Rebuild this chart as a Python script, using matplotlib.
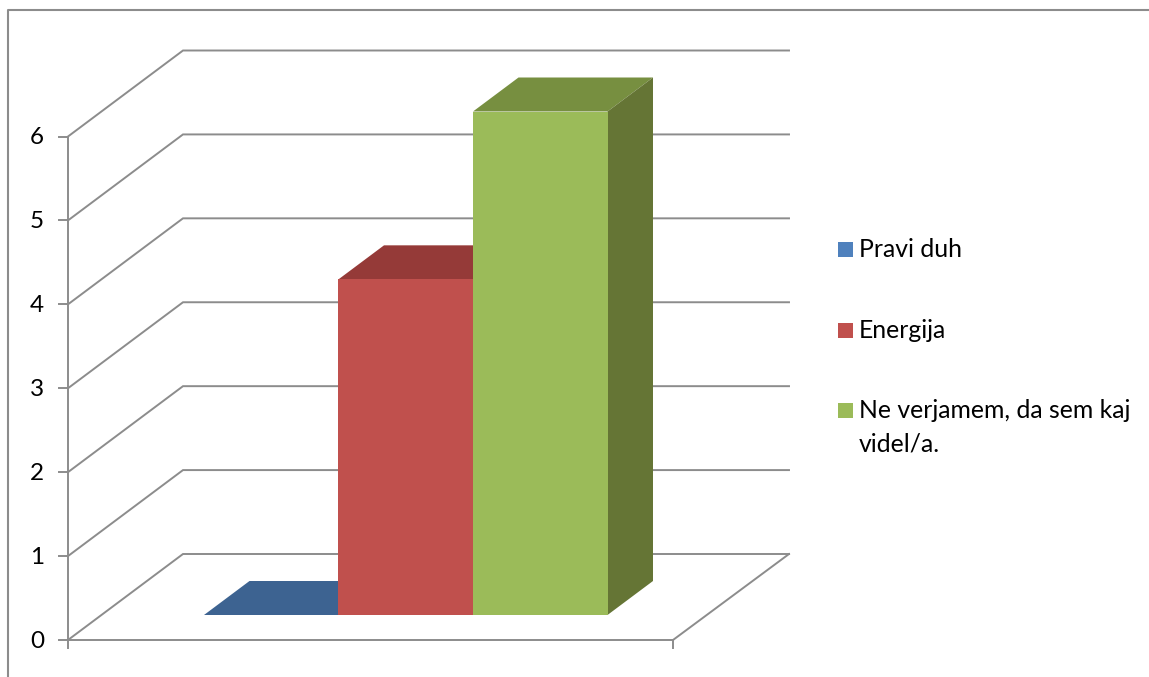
import matplotlib
matplotlib.use("Agg")
import matplotlib.pyplot as plt
from matplotlib.patches import Polygon

W, H = 1149, 677
series = ["Pravi duh", "Energija", "Ne verjamem, da sem kaj\nvidel/a."]
values = [0, 4, 6]
y_ticks = [0, 1, 2, 3, 4, 5, 6]
front = ["#4F81BD", "#C0504D", "#9BBB59"]
top = ["#3D6391", "#953A38", "#778F40"]
side = ["#2F4D71", "#74302E", "#657535"]
GRID = "#8C8C8C"

plt.rcParams["font.family"] = ["Lato", "DejaVu Sans"]
fig = plt.figure(figsize=(W / 100, H / 100), dpi=100)
X0, X1, Y0, Y6 = 68, 673, 640, 136.5
ax = fig.add_axes([X0 / W, 1 - Y0 / H, (X1 - X0) / W, (Y0 - Y6) / H])
ax.set_xlim(X0, X1)
ax.set_ylim(0, 6)
ax.patch.set_alpha(0)
ax.set_axis_off()
PX = (Y0 - Y6) / 6  # pixels per unit

# wall / floor grid
DX, DY = 115, 86
for t in y_ticks:
    xs = [X0, X0 + DX, 789]
    ys = [t, t + DY / PX, t + DY / PX]
    ax.plot(xs, ys, color=GRID, lw=1.4, clip_on=False, solid_joinstyle="miter")
# floor
ax.plot([X0, X1, 789], [0, 0, DY / PX], color=GRID, lw=1.4, clip_on=False)
# axis line and ticks
ax.plot([X0, X0], [0, 6], color=GRID, lw=1.4, clip_on=False)
for t in y_ticks:
    ax.plot([X0 - 9, X0], [t, t], color=GRID, lw=1.4, clip_on=False)
    ax.text(37, t - 1.5 / PX, str(t), fontsize=17.5, color="black", ha="center",
            va="center", clip_on=False)
for x in (X0, X1):
    ax.plot([x, x], [0, -8 / PX], color=GRID, lw=1.4, clip_on=False)

# bars
BAR_W = 134.5
BX = 204
BDX, BDY = 45.5, 34
BASE_PX = 25  # px above the front floor edge
for i, v in enumerate(values):
    xl = BX + i * BAR_W
    xr = xl + BAR_W
    b = BASE_PX / PX
    tv = b + v
    ax.add_patch(Polygon([(xl, tv), (xr, tv), (xr + BDX, tv + BDY / PX), (xl + BDX, tv + BDY / PX)],
                         closed=True, fc=top[i], ec="none", clip_on=False, zorder=3))
    if v > 0:
        ax.add_patch(Polygon([(xr, b), (xr + BDX, b + BDY / PX), (xr + BDX, tv + BDY / PX), (xr, tv)],
                             closed=True, fc=side[i], ec="none", clip_on=False, zorder=3))
        ax.bar(xl - 0.5, v, width=BAR_W + 0.5, bottom=b, align="edge", color=front[i], zorder=4, clip_on=False)

# outer frame
fig.add_artist(plt.Line2D([8 / W, 8 / W, 1], [0, 1 - 10 / H, 1 - 10 / H],
                          color=GRID, lw=1.5, transform=fig.transFigure))

# legend
leg_y = [249.5, 330.5, 410.5]
leg_base = [257, 338, 451]
for name, col, ly, lb in zip(series, front, leg_y, leg_base):
    fig.patches.append(plt.Rectangle((838 / W, 1 - (ly + 7.5) / H), 15 / W, 15 / H, fc=col, ec="none",
                                     transform=fig.transFigure))
    fig.text(859 / W, 1 - lb / H, name, fontsize=17.8, color="black", va="baseline", ha="left",
             linespacing=1.54)

fig.savefig("out.png", dpi=100)
